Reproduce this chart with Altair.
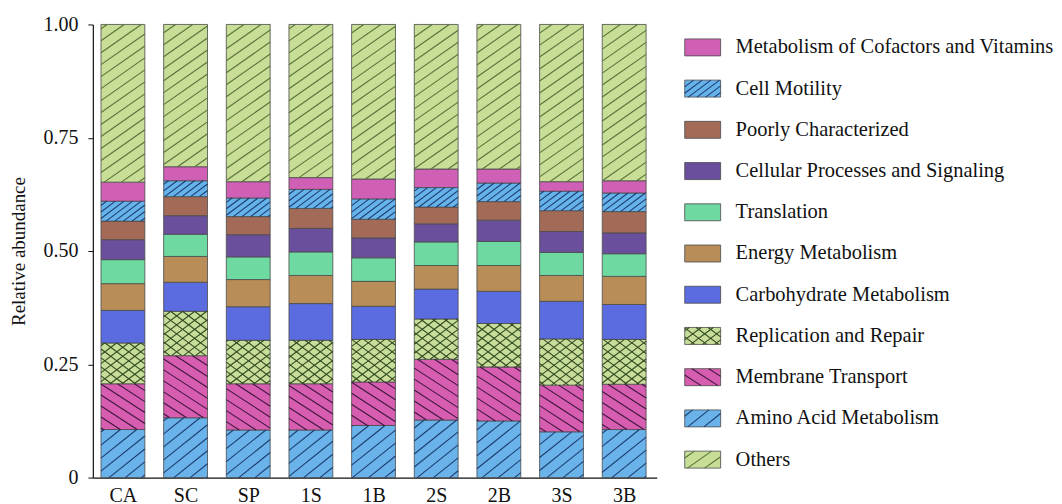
import json
import math
import altair as alt
import pandas as pd

# ---------------- data ----------------
samples = ["CA", "SC", "SP", "1S", "1B", "2S", "2B", "3S", "3B"]

# stacking order, bottom to top
amino = [0.106, 0.132, 0.105, 0.105, 0.115, 0.127, 0.125, 0.101, 0.106]
membrane = [0.101, 0.137, 0.102, 0.102, 0.096, 0.134, 0.119, 0.103, 0.100]
replication = [0.090, 0.098, 0.096, 0.096, 0.094, 0.089, 0.096, 0.102, 0.099]
carbohydrate = [0.072, 0.064, 0.074, 0.081, 0.073, 0.066, 0.071, 0.083, 0.077]
energy = [0.059, 0.057, 0.060, 0.062, 0.055, 0.052, 0.057, 0.057, 0.062]
translation = [0.053, 0.049, 0.050, 0.052, 0.052, 0.052, 0.053, 0.051, 0.050]
cellular = [0.044, 0.041, 0.049, 0.052, 0.044, 0.040, 0.047, 0.046, 0.046]
poorly = [0.041, 0.042, 0.040, 0.044, 0.041, 0.037, 0.041, 0.046, 0.047]
motility = [0.044, 0.035, 0.041, 0.042, 0.045, 0.043, 0.041, 0.043, 0.041]
cofactors = [0.042, 0.031, 0.036, 0.026, 0.044, 0.041, 0.031, 0.021, 0.027]
others = [0.348, 0.314, 0.347, 0.338, 0.341, 0.319, 0.319, 0.347, 0.345]

stack_names = [
    "Amino Acid Metabolism", "Membrane Transport", "Replication and Repair",
    "Carbohydrate Metabolism", "Energy Metabolism", "Translation",
    "Cellular Processes and Signaling", "Poorly Characterized", "Cell Motility",
    "Metabolism of Cofactors and Vitamins", "Others",
]
stack_values = [amino, membrane, replication, carbohydrate, energy, translation,
                cellular, poorly, motility, cofactors, others]

legend_order = [
    "Metabolism of Cofactors and Vitamins", "Cell Motility", "Poorly Characterized",
    "Cellular Processes and Signaling", "Translation", "Energy Metabolism",
    "Carbohydrate Metabolism", "Replication and Repair", "Membrane Transport",
    "Amino Acid Metabolism", "Others",
]

# ---------------- styles ----------------
# fill colour, hatch line colour, list of (slope, vertical spacing px)
styles = {
    "Amino Acid Metabolism": ("#6ab2ea", "#1d3d6e", [(0.8, 13)]),
    "Membrane Transport": ("#d65db0", "#40173f", [(-0.65, 11)]),
    "Replication and Repair": ("#c9dd9a", "#304a20", [(0.75, 9), (-0.75, 9)]),
    "Carbohydrate Metabolism": ("#5b6be0", None, []),
    "Energy Metabolism": ("#b98d57", None, []),
    "Translation": ("#6fd9a2", None, []),
    "Cellular Processes and Signaling": ("#6a4f9c", None, []),
    "Poorly Characterized": ("#a36b57", None, []),
    "Cell Motility": ("#66b3ec", "#1d3d6e", [(0.75, 6.5)]),
    "Metabolism of Cofactors and Vitamins": ("#cf60b6", None, []),
    "Others": ("#c8dd96", "#55733a", [(0.7, 12)]),
}

FONT = "Liberation Serif"
W, H = 565, 454
XMIN, XMAX = -0.48, 8.52
PXX = W / (XMAX - XMIN)
HALF = 0.35


def hatch(x0, x1, y0, y1, k, s):
    """diagonal line segments y = k*x + c clipped to a rectangle (pixel units, y up)"""
    segs = []
    cs = [y0 - k * x0, y0 - k * x1, y1 - k * x0, y1 - k * x1]
    for n in range(math.floor(min(cs) / s) - 1, math.ceil(max(cs) / s) + 2):
        c = n * s
        xa, xb = (y0 - c) / k, (y1 - c) / k
        lo, hi = max(x0, min(xa, xb)), min(x1, max(xa, xb))
        if hi - lo > 0.6:
            segs.append((lo, k * lo + c, hi, k * hi + c))
    return segs


# ---------------- main stacked bars ----------------
bar_rows, line_rows = [], []
for i, s in enumerate(samples):
    base = 0.0
    for name, vals in zip(stack_names, stack_values):
        v = vals[i]
        fill, lc, pats = styles[name]
        bar_rows.append(dict(sample=s, cat=name, x0=i - HALF, x1=i + HALF,
                             y0=base, y1=base + v, fill=fill))
        px0, px1 = (i - HALF - XMIN) * PXX, (i + HALF - XMIN) * PXX
        py0, py1 = base * H, (base + v) * H
        for k, sp in pats:
            for a, b, c, d in hatch(px0, px1, py0, py1, k, sp):
                line_rows.append(dict(hx0=a / PXX + XMIN, hx1=c / PXX + XMIN,
                                      hy0=b / H, hy1=d / H, lc=lc))
        base += v

bars_df = pd.DataFrame(bar_rows)
lines_df = pd.DataFrame(line_rows)

label_expr = json.dumps(samples) + "[round(datum.value)]"
xscale = alt.Scale(domain=[XMIN, XMAX], nice=False, zero=False)
yscale = alt.Scale(domain=[0, 1], nice=False)

bars = alt.Chart(bars_df).mark_rect(stroke="#4a4a4a", strokeWidth=0.8).encode(
    x=alt.X("x0:Q", scale=xscale, title=None,
            axis=alt.Axis(values=list(range(len(samples))), labelExpr=label_expr,
                          tickSize=0, grid=False, labelFont=FONT, labelFontSize=20,
                          labelColor="#111", labelPadding=8, domainColor="#111",
                          domainWidth=1.2)),
    x2="x1:Q",
    y=alt.Y("y0:Q", scale=yscale, title="Relative abundance",
            axis=alt.Axis(values=[0, 0.25, 0.5, 0.75, 1],
                          labelExpr="datum.value == 0 ? '0' : format(datum.value, '.2f')",
                          tickSize=5, tickColor="#111", domainColor="#111",
                          domainWidth=1.2, grid=False, labelFont=FONT,
                          labelFontSize=20, labelColor="#111", labelPadding=10,
                          titleFont=FONT, titleFontSize=19, titleFontWeight="normal",
                          titleColor="#111", titlePadding=14)),
    y2="y1:Q",
    color=alt.Color("fill:N", scale=None),
)

hatches = alt.Chart(lines_df).mark_rule(strokeWidth=1.1).encode(
    x=alt.X("hx0:Q", scale=xscale),
    x2="hx1:Q",
    y=alt.Y("hy0:Q", scale=yscale),
    y2="hy1:Q",
    color=alt.Color("lc:N", scale=None),
)

main = alt.layer(bars, hatches).properties(width=W, height=H)

# ---------------- legend panel (pixel units, y up from plot bottom) ----------------
LW = 390
SW_X0, SW_X1, TXT_X = 28, 64, 79
ROW0, ROW_STEP, SW_H = 431, 41.3, 17

leg_rows, leg_lines = [], []
for j, name in enumerate(legend_order):
    fill, lc, pats = styles[name]
    yc = ROW0 - ROW_STEP * j
    leg_rows.append(dict(cat=name, x0=SW_X0, x1=SW_X1, y0=yc - SW_H / 2,
                         y1=yc + SW_H / 2, yc=yc, tx=TXT_X, fill=fill))
    for k, sp in pats:
        for a, b, c, d in hatch(SW_X0, SW_X1, yc - SW_H / 2, yc + SW_H / 2, k, sp):
            leg_lines.append(dict(hx0=a, hx1=c, hy0=b, hy1=d, lc=lc))

leg_df = pd.DataFrame(leg_rows)
leg_lines_df = pd.DataFrame(leg_lines)
lx = alt.Scale(domain=[0, LW], nice=False, zero=False)
ly = alt.Scale(domain=[0, H], nice=False, zero=False)

sw = alt.Chart(leg_df).mark_rect(stroke="#4a4a4a", strokeWidth=0.8).encode(
    x=alt.X("x0:Q", scale=lx, axis=None), x2="x1:Q",
    y=alt.Y("y0:Q", scale=ly, axis=None), y2="y1:Q",
    color=alt.Color("fill:N", scale=None),
)
sw_lines = alt.Chart(leg_lines_df).mark_rule(strokeWidth=1.1).encode(
    x=alt.X("hx0:Q", scale=lx, axis=None), x2="hx1:Q",
    y=alt.Y("hy0:Q", scale=ly, axis=None), y2="hy1:Q",
    color=alt.Color("lc:N", scale=None),
)
txt = alt.Chart(leg_df).mark_text(align="left", baseline="middle", font=FONT,
                                  fontSize=20.5, color="#111").encode(
    x=alt.X("tx:Q", scale=lx, axis=None),
    y=alt.Y("yc:Q", scale=ly, axis=None),
    text="cat:N",
)
legend = alt.layer(sw, sw_lines, txt).properties(width=LW, height=H)

chart = alt.hconcat(main, legend, spacing=0, bounds="flush").properties(
    padding={"left": 2, "top": 6, "right": 0, "bottom": 0},
    background="white",
).configure_view(stroke=None)

chart.save("out.html", embed_options={"renderer": "svg", "actions": False})
